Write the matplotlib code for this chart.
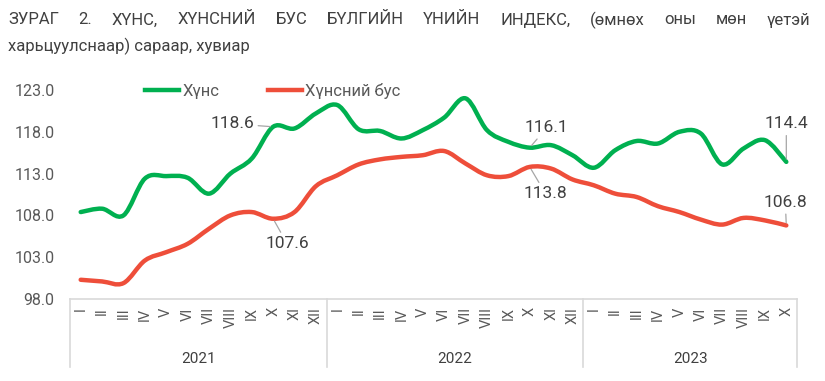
import matplotlib
matplotlib.use("Agg")
import matplotlib.pyplot as plt
from matplotlib.path import Path
from matplotlib.patches import PathPatch
from matplotlib.lines import Line2D
import numpy as np

plt.rcParams["font.family"] = ["Roboto", "DejaVu Sans"]

# ========= data =========
months_2021 = ["I", "II", "III", "IV", "V", "VI", "VII", "VIII", "IX", "X", "XI", "XII"]
months_2022 = ["I", "II", "III", "IV", "V", "VI", "VII", "VIII", "IX", "X", "XI", "XII"]
months_2023 = ["I", "II", "III", "IV", "V", "VI", "VII", "VIII", "IX", "X"]
years = ["2021", "2022", "2023"]

food = [108.4, 108.8, 108.0, 112.4, 112.7, 112.5, 110.6, 113.0, 114.8, 118.6, 118.4, 120.2,
        121.2, 118.3, 118.1, 117.2, 118.2, 119.7, 122.0, 118.2, 116.8, 116.1,
        116.4, 115.2, 113.7, 115.8, 116.9, 116.6, 118.0, 117.8, 114.1, 116.0, 117.0, 114.4]
nonfood = [100.3, 100.1, 99.9, 102.6, 103.6, 104.6, 106.4, 108.0, 108.4, 107.6, 108.4, 111.5,
           112.8, 114.1, 114.7, 115.0, 115.2, 115.7, 114.2, 112.8, 112.7, 113.8,
           113.6, 112.3, 111.6, 110.6, 110.2, 109.1, 108.4, 107.5, 106.9, 107.7, 107.4, 106.8]

yticks = [98.0, 103.0, 108.0, 113.0, 118.0, 123.0]

title1 = "ЗУРАГ 2.  ХҮНС, ХҮНСНИЙ БУС БҮЛГИЙН ҮНИЙН ИНДЕКС, (өмнөх оны мөн үетэй"
title2 = "харьцуулснаар) сараар, хувиар"

GREEN = "#00B050"
RED = "#EE4E3A"
GREY = "#595959"
LINE_GREY = "#D9D9D9"

W, H = 825, 381
fig = plt.figure(figsize=(W / 100, H / 100), dpi=100)
ax = fig.add_axes([70 / W, 1 - 299 / H, 727 / W, 209 / H])

labels = months_2021 + months_2022 + months_2023
x = np.arange(len(labels))


def smooth_path(xs, ys):
    # bezier segments through the points (Excel-like smoothed line)
    pts = np.column_stack([xs, ys]).astype(float)
    n = len(pts)
    verts = [pts[0]]
    codes = [Path.MOVETO]
    for i in range(n - 1):
        p0 = pts[i - 1] if i > 0 else pts[i]
        p1 = pts[i]
        p2 = pts[i + 1]
        p3 = pts[i + 2] if i + 2 < n else pts[i + 1]
        c1 = p1 + (p2 - p0) / 6
        c2 = p2 - (p3 - p1) / 6
        verts += [c1, c2, p2]
        codes += [Path.CURVE4] * 3
    return Path(verts, codes)


for series, color in [(nonfood, RED), (food, GREEN)]:
    ax.add_patch(PathPatch(smooth_path(x, series), fill=False, edgecolor=color,
                           lw=3.2, capstyle="round", joinstyle="round"))

ax.set_xlim(-0.5, len(labels) - 0.5)
ax.set_ylim(98, 123)
ax.set_yticks(yticks)
ax.set_yticklabels([f"{v:.1f}" for v in yticks])
ax.set_xticks(x)
ax.set_xticklabels(labels, rotation=90, va="top", ha="center")
ax.tick_params(axis="y", length=0, pad=11, labelsize=11.5, labelcolor=GREY)
ax.tick_params(axis="x", length=0, pad=6, labelsize=10.5, labelcolor=GREY)

for s in ["top", "right", "left"]:
    ax.spines[s].set_visible(False)
ax.spines["bottom"].set_color(LINE_GREY)
ax.spines["bottom"].set_linewidth(1.2)

# year group separators and labels
trans = ax.get_xaxis_transform()
bounds = [-0.5, 11.5, 23.5, len(labels) - 0.5]
for b in bounds:
    ax.plot([b, b], [0, -0.325], transform=trans, color=LINE_GREY, lw=1.2, clip_on=False)
for i, yr in enumerate(years):
    ax.text((bounds[i] + bounds[i + 1]) / 2, -0.285, yr, transform=trans,
            ha="center", va="center", fontsize=11, color="#404040")

# data labels with leader lines
notes = [
    (9, food, (-41, 3)),
    (9, nonfood, (14, -25)),
    (21, food, (17, 20)),
    (21, nonfood, (16, -27)),
    (33, food, (0, 38)),
    (33, nonfood, (-1, 23)),
]
for i, series, off in notes:
    ax.annotate(f"{series[i]:.1f}", (i, series[i]), xytext=off, textcoords="offset pixels",
                ha="center", va="center", fontsize=12.5, color="#404040",
                arrowprops=dict(arrowstyle="-", color="#A6A6A6", lw=0.9,
                                shrinkA=1, shrinkB=2))

# legend
handles = [Line2D([], [], color=GREEN, lw=3.2),
           Line2D([], [], color=RED, lw=3.2)]
fig.legend(handles, ["Хүнс", "Хүнсний бус"], loc="center left",
           bbox_to_anchor=(145 / W, 1 - 91 / H), ncol=2, frameon=False,
           fontsize=12, labelcolor=GREY, handlelength=2.05, handletextpad=0.2,
           columnspacing=2.9, borderpad=0, borderaxespad=0)

# title, first line justified across the width
fig.canvas.draw()
r = fig.canvas.get_renderer()
words = title1.split()
texts = [fig.text(0, 1 - 20 / H, w, ha="left", va="center", fontsize=12, color="#404040")
         for w in words]
widths = [t.get_window_extent(r).width for t in texts]
x0, x1 = 8, 810
gap = (x1 - x0 - sum(widths)) / (len(words) - 1)
pos = x0
for t, w in zip(texts, widths):
    t.set_x(pos / W)
    pos += w + gap
fig.text(x0 / W, 1 - 46 / H, title2, ha="left", va="center", fontsize=12, color="#404040")

fig.savefig("out.png", dpi=100)
